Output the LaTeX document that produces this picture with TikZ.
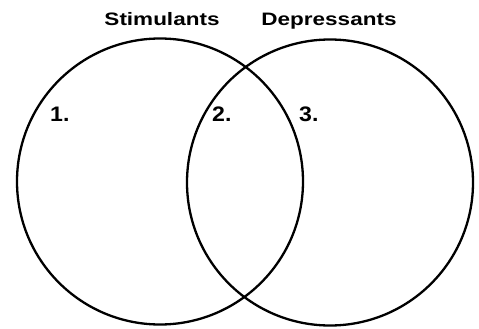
\documentclass[tikz,border=0pt]{standalone}
\usepackage{fontspec}
\setmainfont{Liberation Sans}
\newfontfamily\headfont[FakeStretch=1.25]{Liberation Sans}
\newfontfamily\numfont[FakeStretch=1.1]{Liberation Sans}
\begin{document}
\begin{tikzpicture}[x=1pt,y=-1pt,
  setcircle/.style={circle,draw,line width=2.3pt,minimum size=286pt,inner sep=0pt},
  heading/.style={anchor=base,inner sep=0pt,font=\headfont\bfseries\fontsize{18}{20}\selectfont},
  region/.style={anchor=base west,inner sep=0pt,font=\numfont\bfseries\fontsize{21}{24}\selectfont}]
\useasboundingbox (0,0) rectangle (479,329);
\node[setcircle] (L) at (160,181.5) {};
\node[setcircle] (R) at (330,182.5) {};
\node[heading] (hs) at (162,26) {Stimulants};
\node[heading] (hd) at (329,26) {Depressants};
\node[region] (n1) at (50,121) {1.};
\node[region] (n2) at (212,121) {2.};
\node[region] (n3) at (299,121) {3.};
\end{tikzpicture}
\end{document}
